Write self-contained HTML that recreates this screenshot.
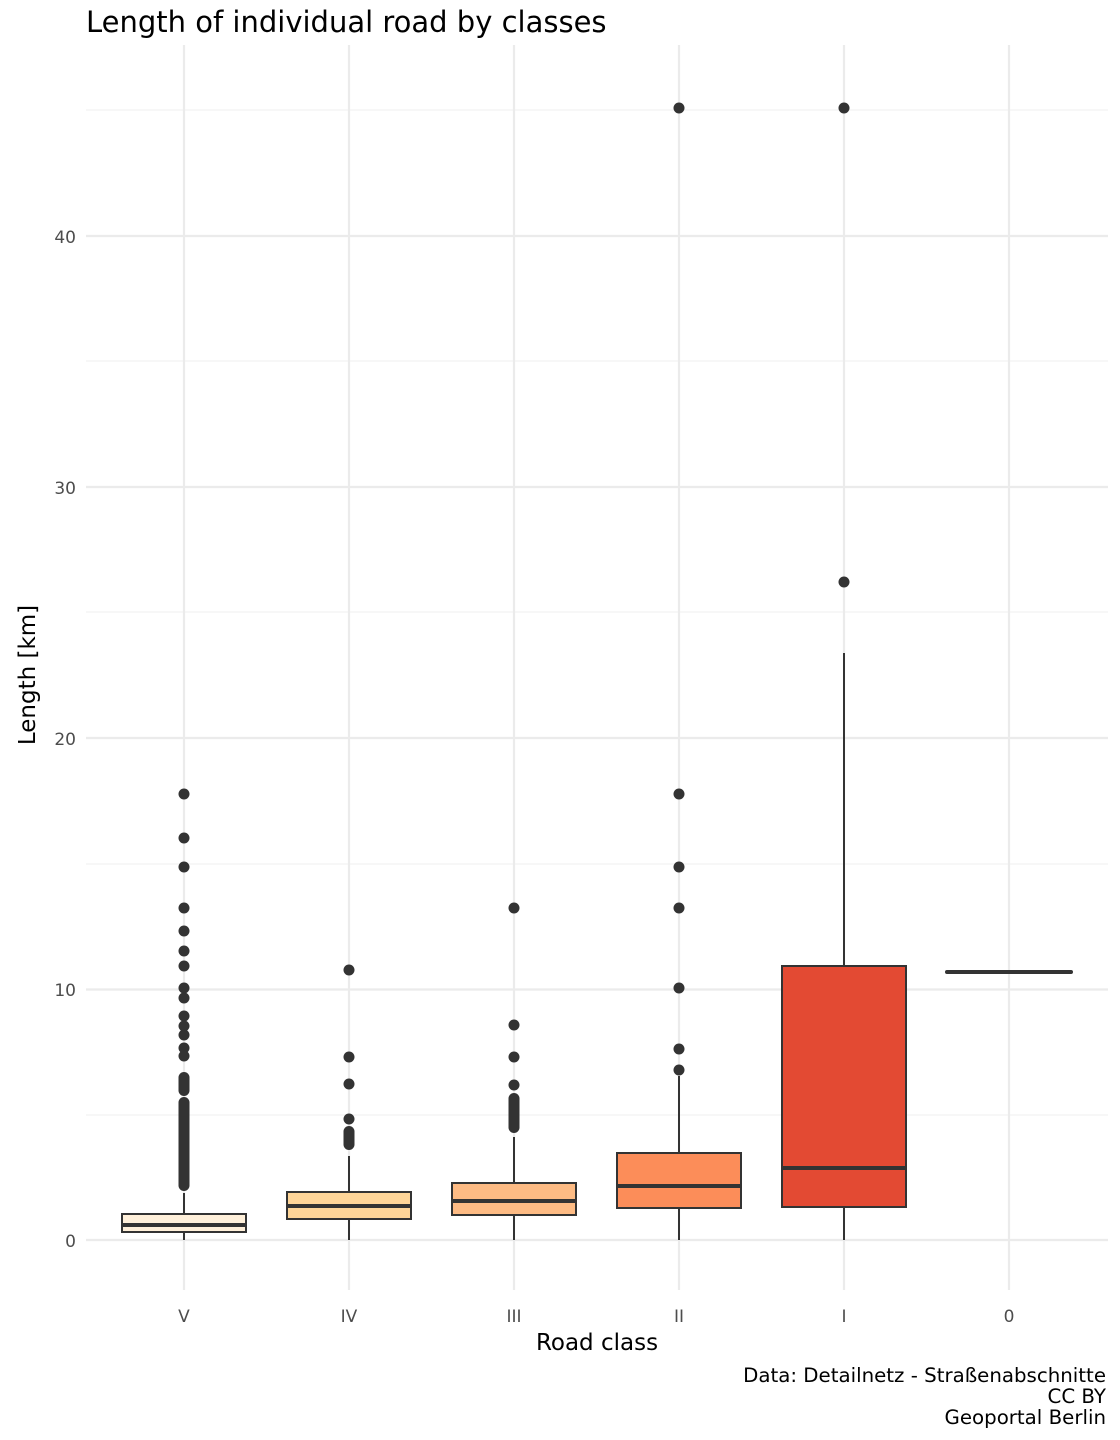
<!DOCTYPE html>
<html><head><meta charset="utf-8"><style>body{margin:0;background:#fff}svg{display:block}</style></head><body>
<svg width="1120" height="1440" xmlns="http://www.w3.org/2000/svg" font-family="DejaVu Sans, Liberation Sans, sans-serif">
<rect width="1120" height="1440" fill="#fff"/>
<g stroke="#efefef" stroke-width="1.1">
<line x1="86" x2="1108" y1="1115" y2="1115"/><line x1="86" x2="1108" y1="864" y2="864"/><line x1="86" x2="1108" y1="612" y2="612"/><line x1="86" x2="1108" y1="361" y2="361"/><line x1="86" x2="1108" y1="110" y2="110"/>
</g>
<g stroke="#ebebeb" stroke-width="2.2">
<line x1="86" x2="1108" y1="1240" y2="1240"/><line x1="86" x2="1108" y1="989.5" y2="989.5"/><line x1="86" x2="1108" y1="738" y2="738"/><line x1="86" x2="1108" y1="487" y2="487"/><line x1="86" x2="1108" y1="236" y2="236"/>
<line x1="184" x2="184" y1="45" y2="1290"/><line x1="349" x2="349" y1="45" y2="1290"/><line x1="514" x2="514" y1="45" y2="1290"/><line x1="679" x2="679" y1="45" y2="1290"/><line x1="844" x2="844" y1="45" y2="1290"/><line x1="1009" x2="1009" y1="45" y2="1290"/>
</g>
<g stroke="#333" stroke-width="2">
<line x1="184" x2="184" y1="1193" y2="1240"/><line x1="349" x2="349" y1="1156" y2="1240"/><line x1="514" x2="514" y1="1137" y2="1240"/><line x1="679" x2="679" y1="1076" y2="1240"/><line x1="844" x2="844" y1="653" y2="1240"/>
<rect x="122" y="1214" width="124" height="18" fill="#fff0da"/>
<rect x="287" y="1192" width="124" height="27" fill="#fed598"/>
<rect x="452" y="1183" width="124" height="32" fill="#fdbb84"/>
<rect x="617" y="1153" width="124" height="55" fill="#fc8d59"/>
<rect x="782" y="966" width="124" height="241" fill="#e34a33"/>
</g>
<g stroke="#333" stroke-width="4">
<line x1="122" x2="246" y1="1225" y2="1225"/><line x1="287" x2="411" y1="1206" y2="1206"/><line x1="452" x2="576" y1="1201" y2="1201"/><line x1="617" x2="741" y1="1186" y2="1186"/><line x1="782" x2="906" y1="1168" y2="1168"/>
<line x1="947" x2="1071" y1="972" y2="972" stroke-linecap="round"/>
</g>
<g fill="#333">
<rect x="178.5" y="1072" width="11" height="24" rx="5.5"/><rect x="178.5" y="1097" width="11" height="94" rx="5.5"/>
<circle cx="184" cy="794" r="5.5"/><circle cx="184" cy="838" r="5.5"/><circle cx="184" cy="867" r="5.5"/><circle cx="184" cy="908" r="5.5"/><circle cx="184" cy="931" r="5.5"/><circle cx="184" cy="951" r="5.5"/><circle cx="184" cy="966" r="5.5"/><circle cx="184" cy="988" r="5.5"/><circle cx="184" cy="998" r="5.5"/><circle cx="184" cy="1016" r="5.5"/><circle cx="184" cy="1026" r="5.5"/><circle cx="184" cy="1035" r="5.5"/><circle cx="184" cy="1048" r="5.5"/><circle cx="184" cy="1056" r="5.5"/>
<circle cx="349" cy="970" r="5.5"/><circle cx="349" cy="1057" r="5.5"/><circle cx="349" cy="1084" r="5.5"/><circle cx="349" cy="1119" r="5.5"/><rect x="343.5" y="1126" width="11" height="24" rx="5.5"/>
<circle cx="514" cy="908" r="5.5"/><circle cx="514" cy="1025" r="5.5"/><circle cx="514" cy="1057" r="5.5"/><circle cx="514" cy="1085" r="5.5"/><rect x="508.5" y="1093" width="11" height="40" rx="5.5"/>
<circle cx="679" cy="108" r="5.5"/><circle cx="679" cy="794" r="5.5"/><circle cx="679" cy="867" r="5.5"/><circle cx="679" cy="908" r="5.5"/><circle cx="679" cy="988" r="5.5"/><circle cx="679" cy="1049" r="5.5"/><circle cx="679" cy="1070" r="5.5"/>
<circle cx="844" cy="108" r="5.5"/><circle cx="844" cy="582" r="5.5"/>
</g>
<g fill="#4d4d4d" font-size="17" text-anchor="end">
<text x="76" y="1247">0</text><text x="76" y="996">10</text><text x="76" y="745">20</text><text x="76" y="494">30</text><text x="76" y="243">40</text>
</g>
<g fill="#4d4d4d" font-size="17" text-anchor="middle">
<text x="184" y="1322">V</text><text x="349" y="1322">IV</text><text x="514" y="1322">III</text><text x="679" y="1322">II</text><text x="844" y="1322">I</text><text x="1009" y="1322">0</text>
</g>
<text x="597" y="1350" font-size="23" text-anchor="middle" fill="#000">Road class</text>
<text transform="translate(35,675) rotate(-90)" font-size="23" text-anchor="middle" fill="#000">Length [km]</text>
<text x="86" y="32" font-size="29" fill="#000">Length of individual road by classes</text>
<g font-size="19.8" text-anchor="end" fill="#000">
<text x="1106" y="1382">Data: Detailnetz - Straßenabschnitte</text><text x="1106" y="1403">CC BY</text><text x="1106" y="1424">Geoportal Berlin</text>
</g>
</svg>
</body></html>
